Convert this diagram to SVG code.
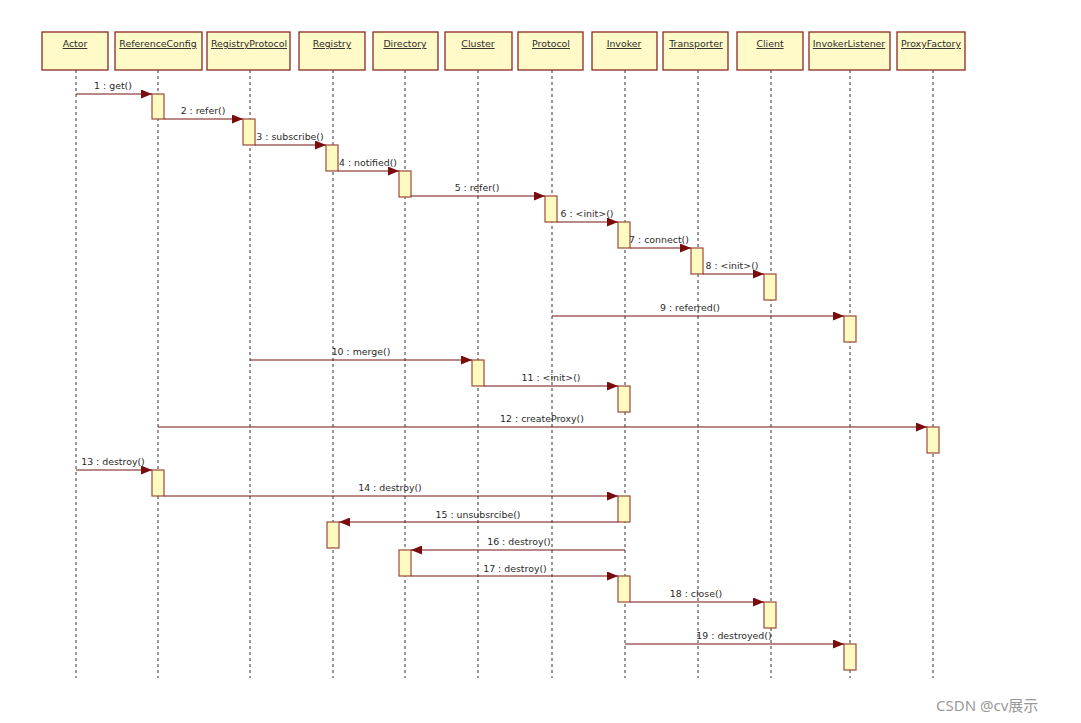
<svg xmlns="http://www.w3.org/2000/svg" width="1081" height="723" viewBox="0 0 1081 723">
<style>
.hd{fill:#fffac8;stroke:#8b2a22;stroke-width:1.3}
.ht{font-family:"DejaVu Sans",sans-serif;font-size:9.4px;fill:#2a2a2a;text-anchor:middle;text-decoration:underline}
.ll{stroke:#333;stroke-width:1;stroke-dasharray:3 3;fill:none}
.act{fill:#fffac0;stroke:#9a4a3a;stroke-width:1.2}
.msg{stroke:#7a1010;stroke-width:1.1;fill:none;marker-end:url(#ah)}
.lb{font-family:"DejaVu Sans",sans-serif;font-size:9.4px;fill:#2a2a2a;text-anchor:middle}
</style>
<defs>
<marker id="ah" markerWidth="11" markerHeight="9" refX="11" refY="4.5" orient="auto" markerUnits="userSpaceOnUse">
<path d="M0,0 L11,4.5 L0,9 Z" fill="#7a0c0c"/>
</marker>
</defs>
<rect width="1081" height="723" fill="#fff"/>
<g id="lifelines">
<line class="ll" x1="76" y1="70" x2="76" y2="678"/>
<line class="ll" x1="158" y1="70" x2="158" y2="678"/>
<line class="ll" x1="250" y1="70" x2="250" y2="678"/>
<line class="ll" x1="333" y1="70" x2="333" y2="678"/>
<line class="ll" x1="405" y1="70" x2="405" y2="678"/>
<line class="ll" x1="478" y1="70" x2="478" y2="678"/>
<line class="ll" x1="552" y1="70" x2="552" y2="678"/>
<line class="ll" x1="625" y1="70" x2="625" y2="678"/>
<line class="ll" x1="698" y1="70" x2="698" y2="678"/>
<line class="ll" x1="771" y1="70" x2="771" y2="678"/>
<line class="ll" x1="850" y1="70" x2="850" y2="678"/>
<line class="ll" x1="933" y1="70" x2="933" y2="678"/>
</g>
<g id="n-actor"><rect class="hd" x="42" y="32" width="66" height="38"/><text class="ht" x="75" y="47">Actor</text></g>
<g id="n-referenceconfig"><rect class="hd" x="115" y="32" width="87" height="38"/><text class="ht" x="158" y="47">ReferenceConfig</text></g>
<g id="n-registryprotocol"><rect class="hd" x="207" y="32" width="83" height="38"/><text class="ht" x="249" y="47">RegistryProtocol</text></g>
<g id="n-registry"><rect class="hd" x="299" y="32" width="66" height="38"/><text class="ht" x="332" y="47">Registry</text></g>
<g id="n-directory"><rect class="hd" x="373" y="32" width="65" height="38"/><text class="ht" x="405" y="47">Directory</text></g>
<g id="n-cluster"><rect class="hd" x="445" y="32" width="67" height="38"/><text class="ht" x="478" y="47">Cluster</text></g>
<g id="n-protocol"><rect class="hd" x="518" y="32" width="65" height="38"/><text class="ht" x="551" y="47">Protocol</text></g>
<g id="n-invoker"><rect class="hd" x="592" y="32" width="65" height="38"/><text class="ht" x="624" y="47">Invoker</text></g>
<g id="n-transporter"><rect class="hd" x="663" y="32" width="65" height="38"/><text class="ht" x="696" y="47">Transporter</text></g>
<g id="n-client"><rect class="hd" x="737" y="32" width="66" height="38"/><text class="ht" x="770" y="47">Client</text></g>
<g id="n-invokerlistener"><rect class="hd" x="809" y="32" width="81" height="38"/><text class="ht" x="849" y="47">InvokerListener</text></g>
<g id="n-proxyfactory"><rect class="hd" x="897" y="32" width="68" height="38"/><text class="ht" x="931" y="47">ProxyFactory</text></g>
<g id="activations">
<rect class="act" x="152" y="94" width="12" height="25"/>
<rect class="act" x="243" y="119" width="12" height="26"/>
<rect class="act" x="326" y="145" width="12" height="26"/>
<rect class="act" x="399" y="171" width="12" height="26"/>
<rect class="act" x="545" y="196" width="12" height="26"/>
<rect class="act" x="618" y="222" width="12" height="26"/>
<rect class="act" x="691" y="248" width="12" height="26"/>
<rect class="act" x="764" y="274" width="12" height="26"/>
<rect class="act" x="844" y="316" width="12" height="26"/>
<rect class="act" x="472" y="360" width="12" height="26"/>
<rect class="act" x="618" y="386" width="12" height="26"/>
<rect class="act" x="927" y="427" width="12" height="26"/>
<rect class="act" x="152" y="470" width="12" height="26"/>
<rect class="act" x="618" y="496" width="12" height="26"/>
<rect class="act" x="327" y="522" width="12" height="26"/>
<rect class="act" x="399" y="550" width="12" height="26"/>
<rect class="act" x="618" y="576" width="12" height="26"/>
<rect class="act" x="764" y="602" width="12" height="26"/>
<rect class="act" x="844" y="644" width="12" height="26"/>
</g>
<g id="connectors">
<line class="msg" x1="76" y1="94" x2="152" y2="94"/>
<line class="msg" x1="164" y1="119" x2="243" y2="119"/>
<line class="msg" x1="255" y1="145" x2="326" y2="145"/>
<line class="msg" x1="338" y1="171" x2="399" y2="171"/>
<line class="msg" x1="411" y1="196" x2="545" y2="196"/>
<line class="msg" x1="557" y1="222" x2="618" y2="222"/>
<line class="msg" x1="630" y1="248" x2="691" y2="248"/>
<line class="msg" x1="703" y1="274" x2="764" y2="274"/>
<line class="msg" x1="552" y1="316" x2="844" y2="316"/>
<line class="msg" x1="250" y1="360" x2="472" y2="360"/>
<line class="msg" x1="484" y1="386" x2="618" y2="386"/>
<line class="msg" x1="158" y1="427" x2="927" y2="427"/>
<line class="msg" x1="76" y1="470" x2="152" y2="470"/>
<line class="msg" x1="164" y1="496" x2="618" y2="496"/>
<line class="msg" x1="618" y1="522" x2="339" y2="522"/>
<line class="msg" x1="625" y1="550" x2="411" y2="550"/>
<line class="msg" x1="411" y1="576" x2="618" y2="576"/>
<line class="msg" x1="630" y1="602" x2="764" y2="602"/>
<line class="msg" x1="625" y1="644" x2="844" y2="644"/>
</g>
<g id="labels">
<text class="lb" x="113" y="89">1 : get()</text>
<text class="lb" x="203" y="114">2 : refer()</text>
<text class="lb" x="290" y="140">3 : subscribe()</text>
<text class="lb" x="368" y="166">4 : notified()</text>
<text class="lb" x="477" y="191">5 : refer()</text>
<text class="lb" x="587" y="217">6 : &lt;init&gt;()</text>
<text class="lb" x="659" y="243">7 : connect()</text>
<text class="lb" x="732" y="269">8 : &lt;init&gt;()</text>
<text class="lb" x="690" y="311">9 : referred()</text>
<text class="lb" x="361" y="355">10 : merge()</text>
<text class="lb" x="551" y="381">11 : &lt;init&gt;()</text>
<text class="lb" x="542" y="422">12 : createProxy()</text>
<text class="lb" x="113" y="465">13 : destroy()</text>
<text class="lb" x="390" y="491">14 : destroy()</text>
<text class="lb" x="478" y="518">15 : unsubsrcibe()</text>
<text class="lb" x="519" y="545">16 : destroy()</text>
<text class="lb" x="515" y="572">17 : destroy()</text>
<text class="lb" x="696" y="597">18 : close()</text>
<text class="lb" x="734" y="639">19 : destroyed()</text>
</g>
<text x="936" y="711" font-family="'Noto Sans','Noto Sans CJK SC',sans-serif" font-size="15" fill="#9a9a9a">CSDN @cv展示</text>
</svg>
